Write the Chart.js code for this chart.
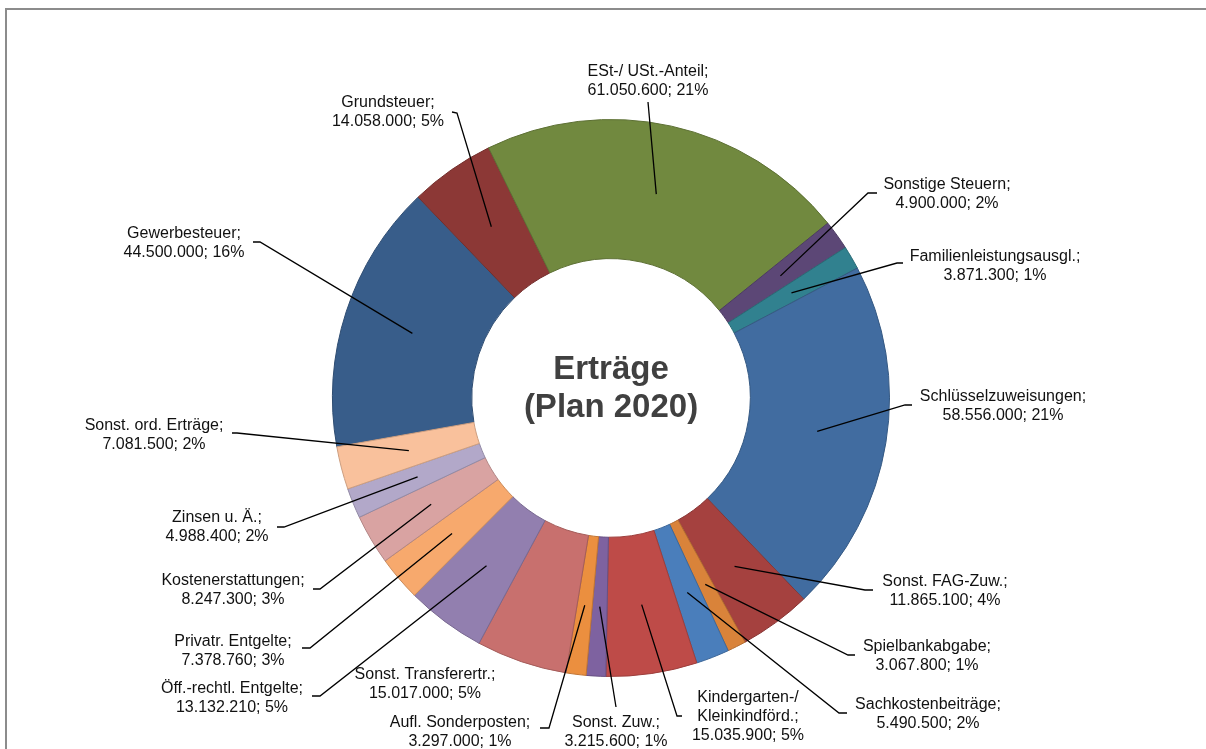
<!doctype html>
<html><head><meta charset="utf-8">
<script src="https://cdn.jsdelivr.net/npm/chart.js@4/dist/chart.umd.min.js"></script>
<style>
  body{margin:0;background:#fff;width:1206px;height:749px;overflow:hidden;position:relative}
  .frame{position:absolute;left:5px;top:8px;width:1300px;height:800px;border-top:2px solid #8c8c8c;border-left:2px solid #8c8c8c}
  canvas{position:absolute;left:0;top:0}
</style></head><body>
<div class="frame"></div>
<canvas id="c" width="1206" height="749"></canvas>
<script>
// slices, clockwise starting at Gewerbesteuer
const categories = [
  'Gewerbesteuer', 'Grundsteuer', 'ESt-/ USt.-Anteil', 'Sonstige Steuern',
  'Familienleistungsausgl.', 'Schlüsselzuweisungen', 'Sonst. FAG-Zuw.', 'Spielbankabgabe',
  'Sachkostenbeiträge', ['Kindergarten-/', 'Kleinkindförd.'], 'Sonst. Zuw.', 'Aufl. Sonderposten',
  'Sonst. Transferertr.', 'Öff.-rechtl. Entgelte', 'Privatr. Entgelte', 'Kostenerstattungen',
  'Zinsen u. Ä.', 'Sonst. ord. Erträge'
];
const values = [
  44500000, 14058000, 61050600, 4900000,
  3871300, 58556000, 11865100, 3067800,
  5490500, 15035900, 3215600, 3297000,
  15017000, 13132210, 7378760, 8247300,
  4988400, 7081500
];
const colors = [
  '#385d8a', '#8c3836', '#71893f', '#5c4776',
  '#31818f', '#416ca0', '#a5413f', '#d9833a',
  '#4a7ebb', '#be4b48', '#7e62a0', '#eb8f3f',
  '#c8706e', '#927faf', '#f7a96d', '#d9a3a2',
  '#b2a8c9', '#f9c19c'
];
const centerLines = ['Erträge', '(Plan 2020)'];

// label placement (text centre x, first line y, leader start, elbow) – layout only
const labelLayout = [
  {x: 184, y: 234, p0: [253, 242], p1: [260, 242]},
  {x: 388, y: 103, p0: [452, 112], p1: [457, 113]},
  {x: 648, y: 72,  p0: [648, 102], p1: null},
  {x: 947, y: 185, p0: [877, 193], p1: [868, 193]},
  {x: 995, y: 257, p0: [903, 263], p1: [897, 263]},
  {x: 1003, y: 397, p0: [912, 405], p1: [905, 405]},
  {x: 945, y: 582, p0: [873, 590], p1: [865, 590]},
  {x: 927, y: 647, p0: [855, 655], p1: [848, 655]},
  {x: 928, y: 705, p0: [847, 713], p1: [839, 713]},
  {x: 748, y: 698, p0: [682, 716], p1: [677, 716]},
  {x: 616, y: 723, p0: [616, 707], p1: null},
  {x: 460, y: 723, p0: [540, 728], p1: [549, 728]},
  {x: 425, y: 675, p0: null, p1: null},
  {x: 232, y: 689, p0: [312, 696], p1: [320, 696]},
  {x: 233, y: 642, p0: [302, 648], p1: [310, 648]},
  {x: 233, y: 581, p0: [313, 589], p1: [320, 589]},
  {x: 217, y: 518, p0: [277, 527], p1: [284, 527]},
  {x: 154, y: 426, p0: [232, 433], p1: [237, 433]}
];

function darken(hex, f) {
  const n = parseInt(hex.slice(1), 16);
  const r = Math.round(((n >> 16) & 255) * f), g = Math.round(((n >> 8) & 255) * f), b = Math.round((n & 255) * f);
  return `rgb(${r},${g},${b})`;
}
const fmt = (v) => String(v).replace(/\B(?=(\d{3})+(?!\d))/g, '.');
const total = values.reduce((a, b) => a + b, 0);

const labelsPlugin = {
  id: 'leaderLabels',
  afterDatasetsDraw(chart) {
    const {ctx, chartArea} = chart;
    const arcs = chart.getDatasetMeta(0).data;
    ctx.save();
    // leader lines
    ctx.strokeStyle = '#000';
    ctx.lineWidth = 1.3;
    arcs.forEach((arc, i) => {
      const l = labelLayout[i];
      if (!l.p0) return;
      const c = arc.getCenterPoint();
      ctx.beginPath();
      ctx.moveTo(l.p0[0], l.p0[1]);
      if (l.p1) ctx.lineTo(l.p1[0], l.p1[1]);
      ctx.lineTo(c.x, c.y);
      ctx.stroke();
    });
    // label text
    ctx.fillStyle = '#111';
    ctx.font = '16px "Liberation Sans", Arial, sans-serif';
    ctx.textAlign = 'center';
    ctx.textBaseline = 'middle';
    categories.forEach((cat, i) => {
      const l = labelLayout[i];
      const name = Array.isArray(cat) ? cat.slice() : [cat];
      name[name.length - 1] += ';';
      const pct = Math.round(values[i] / total * 100);
      const lines = [...name, `${fmt(values[i])}; ${pct}%`];
      lines.forEach((t, k) => ctx.fillText(t, l.x, l.y + k * 19));
    });
    // centre caption
    const cx = (chartArea.left + chartArea.right) / 2;
    const cy = (chartArea.top + chartArea.bottom) / 2;
    ctx.fillStyle = '#404040';
    ctx.font = 'bold 33px "Liberation Sans", Arial, sans-serif';
    ctx.fillText(centerLines[0], cx, cy - 28);
    ctx.fillText(centerLines[1], cx, cy + 10);
    ctx.restore();
  }
};

new Chart(document.getElementById('c'), {
  type: 'doughnut',
  data: {
    labels: categories,
    datasets: [{
      data: values,
      backgroundColor: colors,
      borderColor: colors.map(c => darken(c, 0.82)),
      borderWidth: 1
    }]
  },
  options: {
    responsive: false,
    animation: false,
    cutout: '50%',
    rotation: -100.1,
    layout: {padding: {left: 332, right: 316, top: 119, bottom: 72}},
    plugins: {legend: {display: false}, tooltip: {enabled: false}}
  },
  plugins: [labelsPlugin]
});
</script>
</body></html>
